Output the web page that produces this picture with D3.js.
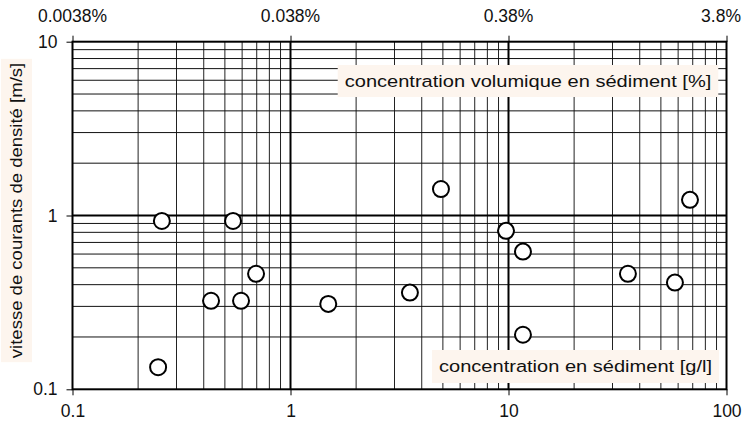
<!DOCTYPE html>
<html>
<head>
<meta charset="utf-8">
<script src="https://cdn.jsdelivr.net/npm/d3@7/dist/d3.min.js"></script>
<style>
  body { margin: 0; background: #fff; }
  text { font-family: "Liberation Sans", Arial, Helvetica, sans-serif; fill: #111; }
</style>
</head>
<body>
<svg id="chart" width="746" height="427"></svg>
<script>
// Sediment concentration [g/l] and density-current velocity [m/s]
const concentration = [0.257, 0.545, 0.695, 0.432, 0.593, 0.247, 1.49, 3.53, 4.90, 9.74, 11.65, 11.65, 35.3, 58.0, 68.0];
const velocity      = [0.93,  0.93,  0.462, 0.323, 0.323, 0.134, 0.31, 0.36, 1.42, 0.816, 0.62, 0.206, 0.462, 0.411, 1.23];

const xTicks = [0.1, 1, 10, 100];
const xTickLabels = ["0.1", "1", "10", "100"];
const topTickLabels = ["0.0038%", "0.038%", "0.38%", "3.8%"];
const yTicks = [0.1, 1, 10];
const yTickLabels = ["0.1", "1", "10"];

const xTitle = "concentration en sédiment [g/l]";
const topTitle = "concentration volumique en sédiment [%]";
const yTitle = "vitesse de courants de densité [m/s]";

const W = 746, H = 427;
const plot = { left: 72.5, right: 726.5, top: 41.7, bottom: 389.3 };
const boxFill = "#fdf5ee";
const tickFont = 17.5;
const titleFont = 17;

const svg = d3.select("#chart");

const x = d3.scaleLog().domain([0.1, 100]).range([plot.left, plot.right]);
const y = d3.scaleLog().domain([0.1, 10]).range([plot.bottom, plot.top]);

// minor grid values: 2..9 within each decade
function minorValues(lo, hi) {
  const out = [];
  for (let e = Math.round(Math.log10(lo)); e < Math.round(Math.log10(hi)); e++) {
    for (let k = 2; k <= 9; k++) out.push(k * Math.pow(10, e));
  }
  return out;
}

const grid = svg.append("g");
grid.selectAll("line.vx").data(minorValues(0.1, 100)).join("line")
  .attr("x1", d => x(d)).attr("x2", d => x(d))
  .attr("y1", plot.top).attr("y2", plot.bottom)
  .attr("stroke", "#222").attr("stroke-width", 1);
grid.selectAll("line.hy").data(minorValues(0.1, 10)).join("line")
  .attr("y1", d => y(d)).attr("y2", d => y(d))
  .attr("x1", plot.left).attr("x2", plot.right)
  .attr("stroke", "#111").attr("stroke-width", 1);
// major grid
grid.selectAll("line.mx").data(xTicks.slice(1, -1)).join("line")
  .attr("x1", d => x(d)).attr("x2", d => x(d))
  .attr("y1", plot.top).attr("y2", plot.bottom)
  .attr("stroke", "#000").attr("stroke-width", 2);
grid.selectAll("line.my").data(yTicks.slice(1, -1)).join("line")
  .attr("y1", d => y(d)).attr("y2", d => y(d))
  .attr("x1", plot.left).attr("x2", plot.right)
  .attr("stroke", "#000").attr("stroke-width", 2);

// frame
svg.append("rect")
  .attr("x", plot.left).attr("y", plot.top)
  .attr("width", plot.right - plot.left).attr("height", plot.bottom - plot.top)
  .attr("fill", "none").attr("stroke", "#000").attr("stroke-width", 2);

// axes
function styleAxis(g) {
  g.select(".domain").remove();
  g.selectAll(".tick line").attr("stroke", "#000").attr("stroke-width", 1);
  g.selectAll(".tick text")
    .attr("font-size", tickFont)
    .attr("font-family", '"Liberation Sans", Arial, sans-serif')
    .attr("fill", "#111");
}

svg.append("g")
  .attr("transform", `translate(0,${plot.bottom})`)
  .call(d3.axisBottom(x).tickValues(xTicks).tickSize(6).tickPadding(9)
    .tickFormat((d, i) => xTickLabels[i]))
  .call(styleAxis);

// top axis: tick marks only, labels placed below
svg.append("g")
  .attr("transform", `translate(0,${plot.top})`)
  .call(d3.axisTop(x).tickValues(xTicks).tickSize(6).tickFormat(() => ""))
  .call(styleAxis);

svg.append("g").selectAll("text")
  .data(xTicks)
  .join("text")
  .attr("font-size", tickFont)
  .attr("y", 21.5)
  .attr("x", (d, i) => i === xTicks.length - 1 ? W - 5 : x(d))
  .attr("text-anchor", (d, i) => i === xTicks.length - 1 ? "end" : "middle")
  .text((d, i) => topTickLabels[i]);

svg.append("g")
  .attr("transform", `translate(${plot.left},0)`)
  .call(d3.axisLeft(y).tickValues(yTicks).tickSize(6).tickPadding(9)
    .tickFormat((d, i) => yTickLabels[i]))
  .call(styleAxis);

// titles drawn on a light box
function boxedTitle(txt, cx, cy, rotate, padX, boxH, stretch) {
  const g = svg.append("g").attr("transform", `translate(${cx},${cy}) rotate(${rotate})`);
  const rect = g.append("rect").attr("fill", boxFill);
  const t = g.append("text")
    .attr("text-anchor", "middle")
    .attr("dominant-baseline", "central")
    .attr("font-size", titleFont)
    .attr("transform", `scale(${stretch},1)`)
    .text(txt);
  const w = t.node().getComputedTextLength() * stretch;
  rect.attr("x", -w / 2 - padX).attr("y", -boxH / 2)
    .attr("width", w + 2 * padX).attr("height", boxH);
}

boxedTitle(topTitle, 528, 81, 0, 7, 32, 1.18);
boxedTitle(xTitle, 575.5, 366.5, 0, 7, 33, 1.18);
boxedTitle(yTitle, 16.5, 210.5, -90, 4, 31, 1.09);

// data points
svg.append("g").selectAll("circle")
  .data(concentration.map((c, i) => [c, velocity[i]]))
  .join("circle")
  .attr("cx", d => x(d[0]))
  .attr("cy", d => y(d[1]))
  .attr("r", 8)
  .attr("fill", "#fff")
  .attr("stroke", "#000")
  .attr("stroke-width", 2);
</script>
</body>
</html>
